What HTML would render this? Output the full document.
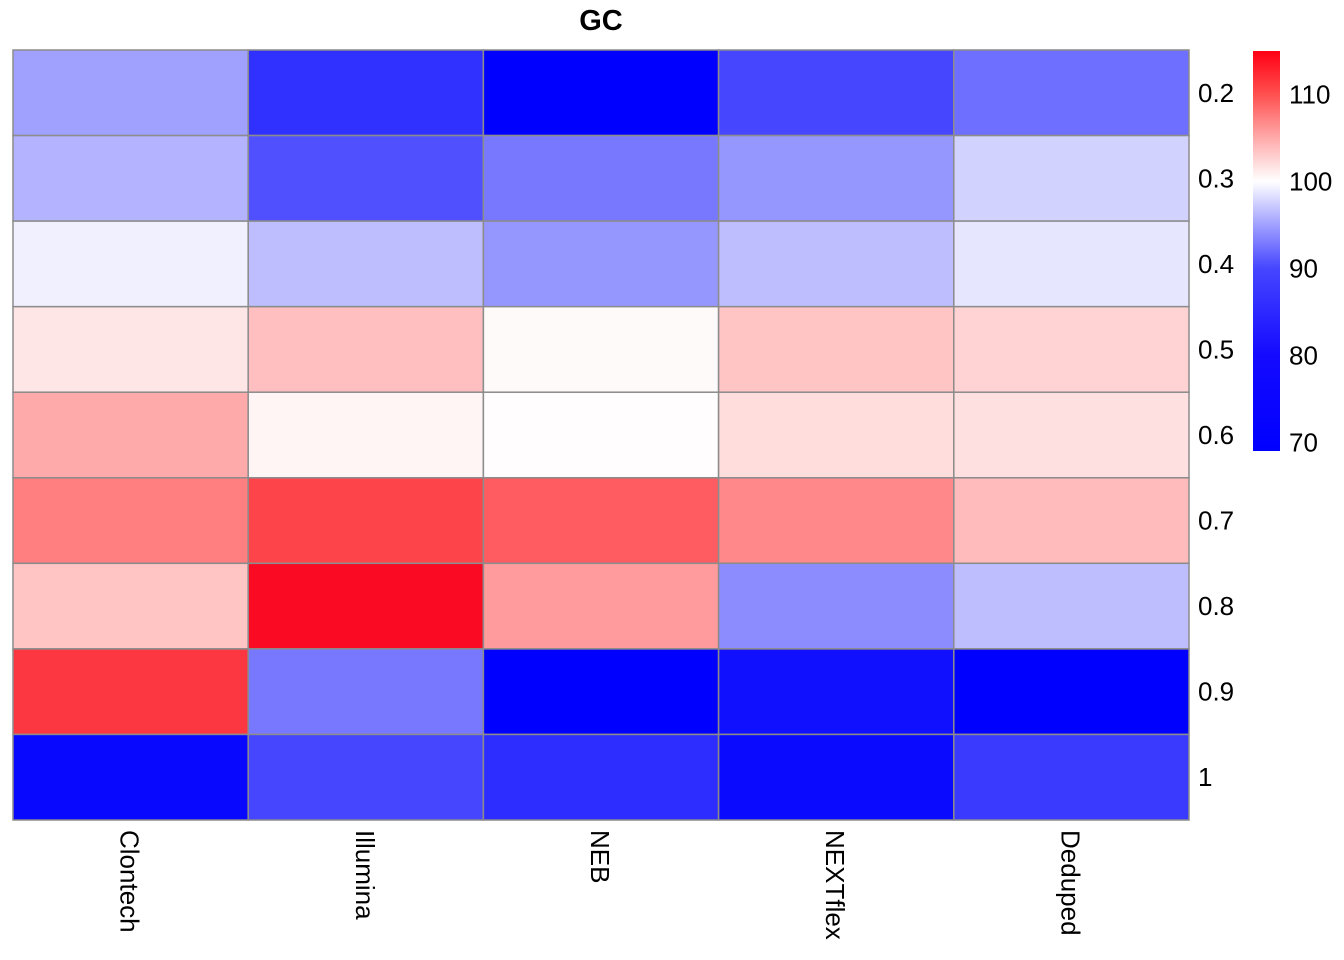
<!DOCTYPE html>
<html><head><meta charset="utf-8"><style>
body{margin:0;background:#fff;}
svg{display:block;font-family:"Liberation Sans",Arial,sans-serif;}
</style></head><body>
<svg id="chart" width="1344" height="960">
<defs>
<linearGradient id="lg" x1="0" y1="1" x2="0" y2="0">
<stop offset="0" stop-color="rgb(0,0,255)"/>
<stop offset="0.239" stop-color="rgb(20,10,255)"/>
<stop offset="0.457" stop-color="rgb(70,70,255)"/>
<stop offset="0.565" stop-color="rgb(160,160,255)"/>
<stop offset="0.674" stop-color="rgb(255,255,255)"/>
<stop offset="0.783" stop-color="rgb(255,170,170)"/>
<stop offset="0.891" stop-color="rgb(255,80,80)"/>
<stop offset="1" stop-color="rgb(255,0,20)"/>
</linearGradient>
</defs>
<text x="601" y="30" text-anchor="middle" font-size="29" font-weight="bold">GC</text>
<g id="cells"></g>
<g id="labels"></g>
<rect x="1253" y="51" width="27" height="400" fill="url(#lg)"/>
<g id="legend"></g>
</svg>
<script>
const columns=["Clontech","Illumina","NEB","NEXTflex","Deduped"];
const rows=["0.2","0.3","0.4","0.5","0.6","0.7","0.8","0.9","1"];
const values=[
[88.5,75,69,77.5,82.4],
[90.8,78.7,83.6,87.2,94.5],
[98.2,92.1,87.2,92.1,97],
[101.5,103.8,100.3,103.5,102.6],
[105,100.6,100.1,102,101.8],
[107.6,111.2,109.7,107,104],
[103.5,115,105.9,86,92.1],
[112,83.6,69,71,69],
[70,77.5,74.5,70.2,76]
];
const legendTicks=[70,80,90,100,110];
const vmin=69,vmid=100,vmax=115;
const gx0=13,gx1=1189,gy0=50,gy1=820;
const cw=(gx1-gx0)/columns.length,rh=(gy1-gy0)/rows.length;
function color(v){
  if(v<=vmid){const t=Math.max(0,(v-vmin)/(vmid-vmin));const c=Math.round(255*t);return `rgb(${c},${c},255)`;}
  const s=Math.min(1,(v-vmid)/(vmax-vmid));const c=255*(1-s);const k=Math.pow(s,4);
  return `rgb(${Math.round(255-5*k)},${Math.round(c+10*k)},${Math.round(c+35*k)})`;
}
const NS="http://www.w3.org/2000/svg";
const cg=document.getElementById('cells'),lg=document.getElementById('labels'),leg=document.getElementById('legend');
rows.forEach((r,i)=>{columns.forEach((c,j)=>{
  const el=document.createElementNS(NS,'rect');
  el.setAttribute('x',gx0+j*cw);el.setAttribute('y',gy0+i*rh);
  el.setAttribute('width',cw);el.setAttribute('height',rh);
  el.setAttribute('fill',color(values[i][j]));el.setAttribute('stroke','#8c8c8c');el.setAttribute('stroke-width','1.5');
  
  
  cg.appendChild(el);
});
  const t=document.createElementNS(NS,'text');
  t.setAttribute('x',1198);t.setAttribute('y',gy0+(i+0.5)*rh+9);t.setAttribute('font-size','26');
  t.textContent=r;
  
  
  lg.appendChild(t);
});
columns.forEach((c,j)=>{
  const t=document.createElementNS(NS,'text');
  const x=gx0+(j+0.5)*cw-10,y=830;
  t.setAttribute('transform',`translate(${x},${y}) rotate(90)`);t.setAttribute('font-size','26');
  t.textContent=c;
  
  
  lg.appendChild(t);
});
legendTicks.forEach(v=>{
  const y=451-(v-vmin)/(vmax-vmin)*400;
  const t=document.createElementNS(NS,'text');
  t.setAttribute('x',1289);t.setAttribute('y',y+9);t.setAttribute('font-size','26');
  t.textContent=v;
  
  
  leg.appendChild(t);
});
</script>
</body></html>
